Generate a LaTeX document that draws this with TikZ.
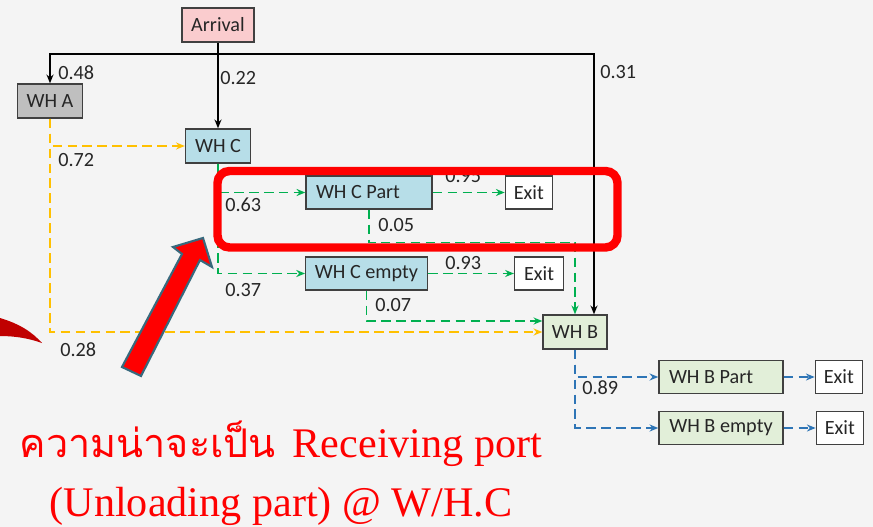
\documentclass[tikz,border=0pt]{standalone}
\usepackage{fontspec}
\setmainfont{Carlito}
\newfontfamily\serifcap{Liberation Serif}
\newfontfamily\thaifont[Script=Thai]{Loma}
\usetikzlibrary{arrows.meta, positioning}
\definecolor{bgcol}{RGB}{244,244,244}
\definecolor{edge}{RGB}{64,64,64}
\definecolor{arrivalfill}{RGB}{250,204,206}
\definecolor{whafill}{RGB}{191,191,191}
\definecolor{whcfill}{RGB}{183,222,232}
\definecolor{whbfill}{RGB}{226,239,217}
\definecolor{yellowline}{RGB}{255,192,0}
\definecolor{greenline}{RGB}{0,176,80}
\definecolor{blueline}{RGB}{46,117,182}
\definecolor{markred}{RGB}{255,0,0}
\definecolor{arrowedge}{RGB}{56,105,125}
\definecolor{darkred}{RGB}{192,0,0}

\begin{document}
\begin{tikzpicture}[
  x=0.02cm, y=-0.02cm,
  node distance=1.44cm,
  box/.style={rectangle, draw=edge, line width=0.8pt, fill=#1, minimum height=0.68cm,
    font=\fontsize{11.5}{13}\selectfont, text=black!85, inner sep=0pt},
  wide/.style={box=#1, minimum height=0.66cm},
  partbox/.style={wide=#1, inner xsep=0.2cm, align=flush left},
  exitbox/.style={box=white, minimum width=0.94cm, minimum height=0.66cm},
  prob/.style={font=\fontsize{11.5}{13}\selectfont, text=black!85, anchor=west, inner sep=0pt},
  flow/.style={-{Stealth[length=5pt,width=4pt]}, line width=0.8pt, #1},
  dflow/.style={flow=#1, dash pattern=on 5.5pt off 3pt}
]
% Background and frame
\fill[bgcol] (0,0) rectangle (873,527);
\useasboundingbox (0,0) rectangle (873,527);

% Warehouses
\node[box=arrivalfill, minimum width=1.44cm] (arrival) at (218,25) {Arrival};
\node[box=whafill, minimum width=1.30cm] (wha) at (50,101) {WH A};
\node[box=whcfill, minimum width=1.30cm] (whc) at (218,146) {WH C};
\node[box=whbfill, minimum width=1.28cm] (whb) at (575,332) {WH B};

% Branches of WH C
\node[partbox=whcfill, text width=2.12cm] (cpart) at (369,192.5) {WH C Part};
\node[exitbox, right=of cpart] (exitcp) {Exit};
\node[wide=whcfill, minimum width=2.43cm] (cempty) at (366.5,273.5) {WH C empty};
\node[exitbox, minimum width=0.98cm, right=1.72cm of cempty] (exitce) {Exit};

% Branches of WH B
\node[partbox=whbfill, text width=2.08cm] (bpart) at (721,377) {WH B Part};
\node[exitbox, right=0.62cm of bpart] (exitbp) {Exit};
\node[wide=whbfill, minimum width=2.48cm] (bempty) at (721,428) {WH B empty};
\node[exitbox, right=0.64cm of bempty] (exitbe) {Exit};

% Arrivals
\coordinate (split) at (218,54);
\draw[flow=black] (arrival) -- (whc);
\draw[flow=black] (split) -| (wha.north);
\draw[flow=black] (split) -| ([xshift=0.38cm]whb.north);

% WH A
\draw[dflow=yellowline] (wha.south) |- (whc.west);
\draw[dflow=yellowline] (wha.south) |- (whb.west);

% WH C
\draw[dflow=greenline] (whc.south) |- (cpart.west);
\draw[dflow=greenline] (whc.south) |- (cempty.west);
\draw[dflow=greenline] (cpart) -- (exitcp);
\draw[dflow=greenline] (cempty) -- (exitce);
\draw[dflow=greenline] (cpart.south) -- ++(0,33) -| (whb.north);
\draw[dflow=greenline] (cempty.south) |- ([yshift=0.22cm]whb.west);

% WH B
\draw[dflow=blueline] (whb.south) |- (bpart.west);
\draw[dflow=blueline] (whb.south) |- (bempty.west);
\draw[dflow=blueline] (bpart) -- (exitbp);
\draw[dflow=blueline] (bempty) -- (exitbe);

% Probabilities
\node[prob] (p48) at (58,73) {0.48};
\node[prob] (p22) at (220,78) {0.22};
\node[prob] (p31) at (600,72) {0.31};
\node[prob] (p72) at (58,160) {0.72};
\node[prob] (p28) at (60,350) {0.28};
\node[prob] (p63) at (225,205) {0.63};
\node[prob] (p37) at (225,290) {0.37};
\node[prob] (p95) at (445,176) {0.95};
\node[prob] (p05) at (378,225) {0.05};
\node[prob] (p93) at (445,263) {0.93};
\node[prob] (p07) at (375,305) {0.07};
\node[prob] (p89) at (582,388) {0.89};

% Highlight
\draw[markred, line width=4.8pt, rounded corners=0.24cm] (217.5,171) rectangle (617.5,247.5);
\filldraw[fill=markred, draw=arrowedge, line width=1.2pt, line join=miter]
  (122,367) -- (182,254) -- (173,247) -- (203,238) -- (212,267) -- (200,260) -- (141,376) -- cycle;
\fill[darkred] (0,318) .. controls (20,324) and (32,332) .. (42,343)
  .. controls (28,338) and (14,336) .. (0,336) -- cycle;

% Caption
\node[anchor=base, text=markred, font=\fontsize{24}{28}\selectfont\serifcap] (capa) at (281,457)
  {{\thaifont\fontsize{22.5}{26}\selectfont ความน่าจะเป็น}\hspace{0.4em}Receiving port};
\node[anchor=base, text=markred, font=\fontsize{24}{28}\selectfont\serifcap] (capb) at (281,516)
  {(Unloading part) @ W/H.C};
\end{tikzpicture}
\end{document}
